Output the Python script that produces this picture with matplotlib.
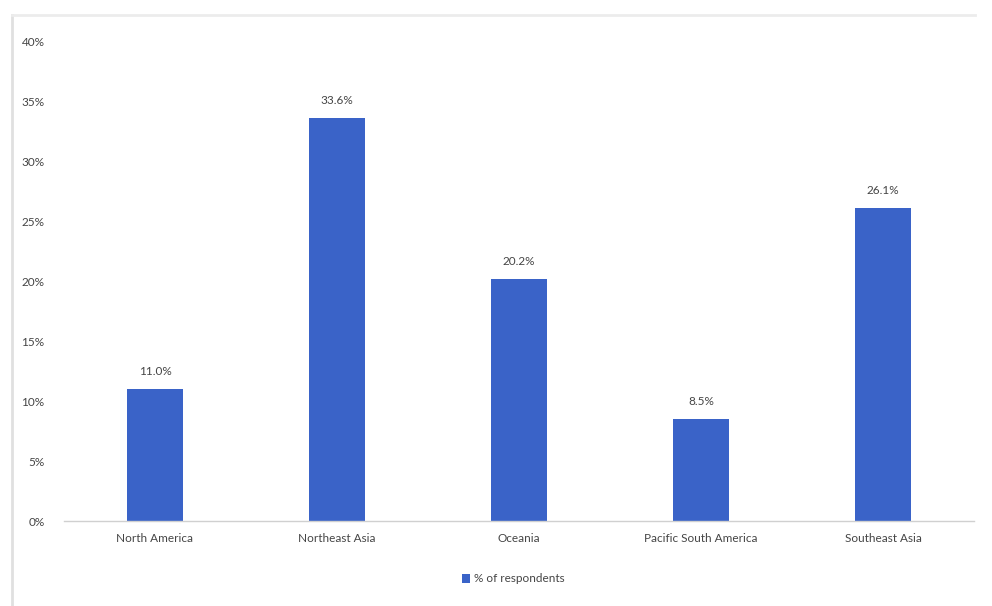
import matplotlib
matplotlib.use("Agg")
import matplotlib.pyplot as plt
from matplotlib.lines import Line2D
from matplotlib.patches import Patch
from matplotlib.ticker import FuncFormatter

plt.rcParams["font.family"] = ["Lato", "DejaVu Sans"]

regions = ["North America", "Northeast Asia", "Oceania", "Pacific South America", "Southeast Asia"]
share = [11.0, 33.6, 20.2, 8.5, 26.1]
series_name = "% of respondents"
y_ticks = [0, 5, 10, 15, 20, 25, 30, 35, 40]

bar_color = "#3A63C8"
text_color = "#454545"

fig = plt.figure(figsize=(9.92, 6.06), dpi=100)
fig.patch.set_facecolor("white")

# light chart-area edges (left and top)
fig.add_artist(Line2D([12 / 992, 12 / 992], [0, 1 - 15 / 606],
                      transform=fig.transFigure, color="#e0e0e0", linewidth=2))
fig.add_artist(Line2D([12 / 992, 975 / 992], [1 - 15 / 606, 1 - 15 / 606],
                      transform=fig.transFigure, color="#ececec", linewidth=2))

ax = fig.add_axes([64 / 992, 1 - 521 / 606, 910 / 992, 480 / 606])
x = list(range(len(regions)))
ax.bar(x, share, width=0.31, color=bar_color)

for xi, v in zip(x, share):
    ax.text(xi, v + 1.0, f"{v:.1f}%", ha="center", va="bottom",
            fontsize=8.5, color=text_color)

ax.set_xlim(-0.5, len(regions) - 0.5)
ax.set_ylim(0, 40)
ax.set_yticks(y_ticks)
ax.yaxis.set_major_formatter(FuncFormatter(lambda v, p: f"{v:.0f}%"))
ax.set_xticks(x)
ax.set_xticklabels(regions)
ax.tick_params(axis="both", length=0, labelsize=8.5, colors=text_color)
ax.tick_params(axis="y", pad=14)
ax.tick_params(axis="x", pad=9)

for side in ["top", "right", "left"]:
    ax.spines[side].set_visible(False)
ax.spines["bottom"].set_color("#d0d0d0")
ax.spines["bottom"].set_linewidth(1)

fig.legend(handles=[Patch(facecolor=bar_color, label=series_name)],
           loc="center", bbox_to_anchor=(513 / 992, 1 - 579 / 606),
           frameon=False, fontsize=8.5, handlelength=0.7, handleheight=0.7,
           handletextpad=0.3, labelcolor=text_color)

fig.savefig("out.png", dpi=100)
